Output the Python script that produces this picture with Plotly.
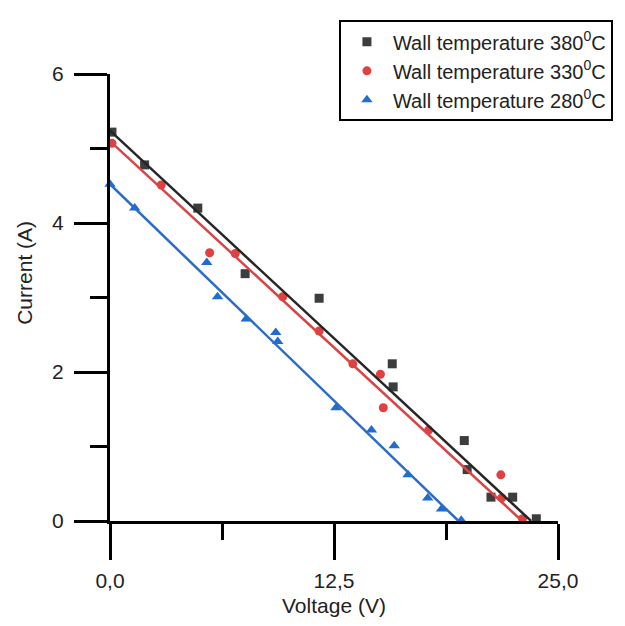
import plotly.graph_objects as go

# ── Data ──────────────────────────────────────────────────────────────────────
v_380 = [0.11, 1.93, 4.90, 7.54, 11.67, 15.75, 15.80, 19.77, 19.93, 21.26, 22.47, 23.79]
i_380 = [5.22, 4.78, 4.20, 3.32, 2.99, 2.11, 1.80, 1.08, 0.69, 0.32, 0.32, 0.03]

v_330 = [0.11, 2.86, 5.56, 6.99, 9.64, 11.67, 13.55, 15.09, 15.25, 17.78, 21.81, 21.86, 23.02]
i_330 = [5.07, 4.51, 3.60, 3.59, 3.01, 2.55, 2.11, 1.97, 1.52, 1.22, 0.62, 0.31, 0.03]

v_280 = [0.0, 1.38, 5.40, 6.00, 7.60, 9.25, 9.36, 12.61, 14.59, 15.86, 16.63, 17.73, 18.50, 19.60]
i_280 = [4.52, 4.20, 3.47, 3.01, 2.71, 2.53, 2.41, 1.52, 1.22, 1.01, 0.62, 0.31, 0.16, 0.01]

# linear fit lines (end points)
fit_380_v = [0.0, 23.5]
fit_380_i = [5.24, 0.0]
fit_330_v = [0.0, 23.0]
fit_330_i = [5.10, 0.0]
fit_280_v = [0.0, 19.45]
fit_280_i = [4.52, 0.0]

x_ticks = [0, 12.5, 25]
x_tick_text = ["0,0", "12,5", "25,0"]
x_minor = [6.25, 18.75]
y_ticks = [0, 2, 4, 6]
y_minor = [1, 3, 5]

FONT = "Liberation Sans, Arial, sans-serif"
GREY = "#3d3d3d"
RED = "#e0403f"
BLUE = "#1f6dd1"

fig = go.Figure()

# ── Markers ───────────────────────────────────────────────────────────────────
series = [
    (v_380, i_380, "Wall temperature 380<sup>0</sup>C", "square", GREY, 9),
    (v_330, i_330, "Wall temperature 330<sup>0</sup>C", "circle", RED, 9),
    (v_280, i_280, "Wall temperature 280<sup>0</sup>C", "triangle-up", BLUE, 10),
]
for vx, iy, name, sym, col, sz in series:
    fig.add_trace(go.Scatter(
        x=vx, y=iy, mode="markers", name=name,
        marker=dict(symbol=sym, color=col, size=sz),
        cliponaxis=False,
    ))

# ── Fit lines ─────────────────────────────────────────────────────────────────
fits = [
    (fit_380_v, fit_380_i, "#262626"),
    (fit_330_v, fit_330_i, "#d94444"),
    (fit_280_v, fit_280_i, "#2a6cc8"),
]
for fx, fy, col in fits:
    fig.add_trace(go.Scatter(
        x=fx, y=fy, mode="lines", showlegend=False, hoverinfo="skip",
        line=dict(color=col, width=2.5),
        cliponaxis=False,
    ))

# axis titles as annotations (the y one sits above the axis centre)
fig.add_annotation(
    text="Current (A)", textangle=-90,
    xref="paper", yref="paper", x=-0.19, y=0.555,
    xanchor="center", yanchor="middle", showarrow=False,
    font=dict(family=FONT, size=21, color="#222"),
)
fig.add_annotation(
    text="Voltage (V)",
    xref="paper", yref="paper", x=0.50, y=-0.188,
    xanchor="center", yanchor="middle", showarrow=False,
    font=dict(family=FONT, size=21, color="#222"),
)

# page body has an 8px margin, so the figure is 8px smaller than the window
fig.update_layout(
    width=617, height=618,
    paper_bgcolor="white", plot_bgcolor="white",
    margin=dict(l=102, r=61, t=50, b=105),
    font=dict(family=FONT, size=21, color="#222"),
    xaxis=dict(
        range=[0, 25], tickmode="array", tickvals=x_ticks, ticktext=x_tick_text,
        showgrid=False, zeroline=False, automargin=False,
        showline=True, linecolor="black", linewidth=3,
        ticks="outside", ticklen=36, tickwidth=2.5, tickcolor="black",
        ticklabelstandoff=3,
        minor=dict(tickvals=x_minor, ticks="outside", ticklen=16,
                   tickwidth=2.5, tickcolor="black", showgrid=False),
    ),
    yaxis=dict(
        range=[0, 6], tickmode="array", tickvals=y_ticks,
        showgrid=False, zeroline=False, automargin=False,
        showline=True, linecolor="black", linewidth=3,
        ticks="outside", ticklen=33, tickwidth=2.5, tickcolor="black",
        ticklabelstandoff=6,
        minor=dict(tickvals=y_minor, ticks="outside", ticklen=17,
                   tickwidth=2.5, tickcolor="black", showgrid=False),
    ),
    legend=dict(
        x=0.511, y=1.12, xanchor="left", yanchor="top",
        bgcolor="white", bordercolor="black", borderwidth=2,
        font=dict(family=FONT, size=20, color="#222"),
        tracegroupgap=0, itemwidth=42,
    ),
    showlegend=True,
)

fig.write_html("out.html")
